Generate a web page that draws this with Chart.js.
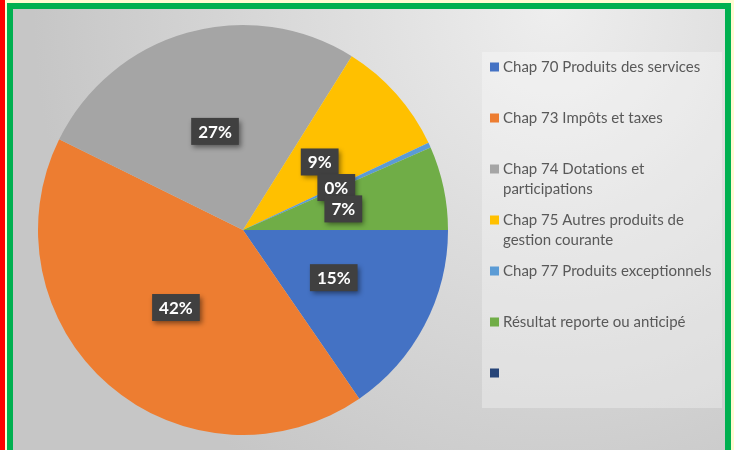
<!DOCTYPE html>
<html>
<head>
<meta charset="utf-8">
<script src="https://cdn.jsdelivr.net/npm/chart.js@4"></script>
<style>
  html, body { margin: 0; padding: 0; }
  body { width: 734px; height: 450px; background: #fffbd2; position: relative; overflow: hidden; }
  #red { position: absolute; left: 0; top: 0; width: 5px; height: 450px; background: #ff0000; }
  #frame {
    position: absolute; left: 7px; top: 3px; width: 712px; height: 460px;
    border: 6px solid #00b050;
    background: radial-gradient(ellipse 520px 560px at 540px 0px, #eeeeee 0%, #dadada 50%, #c6c6c6 100%);
  }
  #legendBox { position: absolute; left: 482px; top: 52px; width: 240px; height: 356px; background: rgba(255,255,255,0.3); }
  canvas { position: absolute; left: 0; top: 0; }
</style>
</head>
<body>
<div id="red"></div>
<div id="frame"></div>
<div id="legendBox"></div>
<canvas id="myChart" width="734" height="450"></canvas>
<script>
// données du graphique
const categories = [
  'Chap 70 Produits des services',
  'Chap 73 Impôts et taxes',
  'Chap 74 Dotations et participations',
  'Chap 75 Autres produits de gestion courante',
  'Chap 77 Produits exceptionnels',
  'Résultat reporte ou anticipé',
  ''
];
const values = [15.4, 41.9, 26.6, 9.1, 0.4, 6.6, 0];
const colors = ['#4472c4', '#ed7d31', '#a5a5a5', '#ffc000', '#5b9bd5', '#70ad47', '#264478'];

const FONT = 'Lato, "Open Sans", sans-serif';

// étiquettes de pourcentage dans des boîtes sombres
const pctLabels = {
  id: 'pctLabels',
  afterDatasetsDraw(chart) {
    const ctx = chart.ctx;
    const data = chart.data.datasets[0].data;
    const total = data.reduce((a, b) => a + b, 0);
    const arcs = chart.getDatasetMeta(0).data;
    ctx.save();
    ctx.font = 'bold 17px ' + FONT;
    ctx.textAlign = 'center';
    ctx.textBaseline = 'middle';
    arcs.forEach((arc, i) => {
      if (!categories[i]) return;
      const p = arc.tooltipPosition();
      const txt = Math.round(data[i] / total * 100) + '%';
      const w = ctx.measureText(txt).width + 14;
      const h = 27;
      ctx.save();
      ctx.shadowColor = 'rgba(0,0,0,0.45)';
      ctx.shadowBlur = 5;
      ctx.shadowOffsetX = 2;
      ctx.shadowOffsetY = 3;
      ctx.fillStyle = '#404040';
      ctx.fillRect(p.x - w / 2, p.y - h / 2, w, h);
      ctx.restore();
      ctx.fillStyle = '#ffffff';
      ctx.fillText(txt, p.x, p.y + 1);
    });
    ctx.restore();
  }
};

// légende à droite avec retour à la ligne
const sideLegend = {
  id: 'sideLegend',
  afterDraw(chart) {
    const ctx = chart.ctx;
    const bg = chart.data.datasets[0].backgroundColor;
    const x0 = 490, textX = 503, y0 = 67, step = 51, lineH = 20, maxW = 216;
    ctx.save();
    ctx.font = '15px ' + FONT;
    ctx.textBaseline = 'middle';
    chart.data.labels.forEach((lab, i) => {
      const y = y0 + step * i;
      ctx.fillStyle = bg[i];
      ctx.fillRect(x0, y - 4.5, 9, 9);
      ctx.fillStyle = '#595959';
      const words = lab.split(' ');
      let line = '', ly = y;
      words.forEach(wd => {
        const test = line ? line + ' ' + wd : wd;
        if (ctx.measureText(test).width > maxW && line) {
          ctx.fillText(line, textX, ly);
          line = wd;
          ly += lineH;
        } else {
          line = test;
        }
      });
      if (line) ctx.fillText(line, textX, ly);
    });
    ctx.restore();
  }
};

const ctx = document.getElementById('myChart');
const myChart = new Chart(ctx, {
  type: 'pie',
  data: {
    labels: categories,
    datasets: [{
      data: values,
      backgroundColor: colors,
      borderWidth: 0
    }]
  },
  options: {
    responsive: false,
    animation: false,
    rotation: 90,
    layout: { padding: { left: 38, right: 286, top: 25, bottom: 15 } },
    plugins: {
      legend: { display: false },
      tooltip: { enabled: false }
    }
  },
  plugins: [pctLabels, sideLegend]
});
</script>
</body>
</html>
